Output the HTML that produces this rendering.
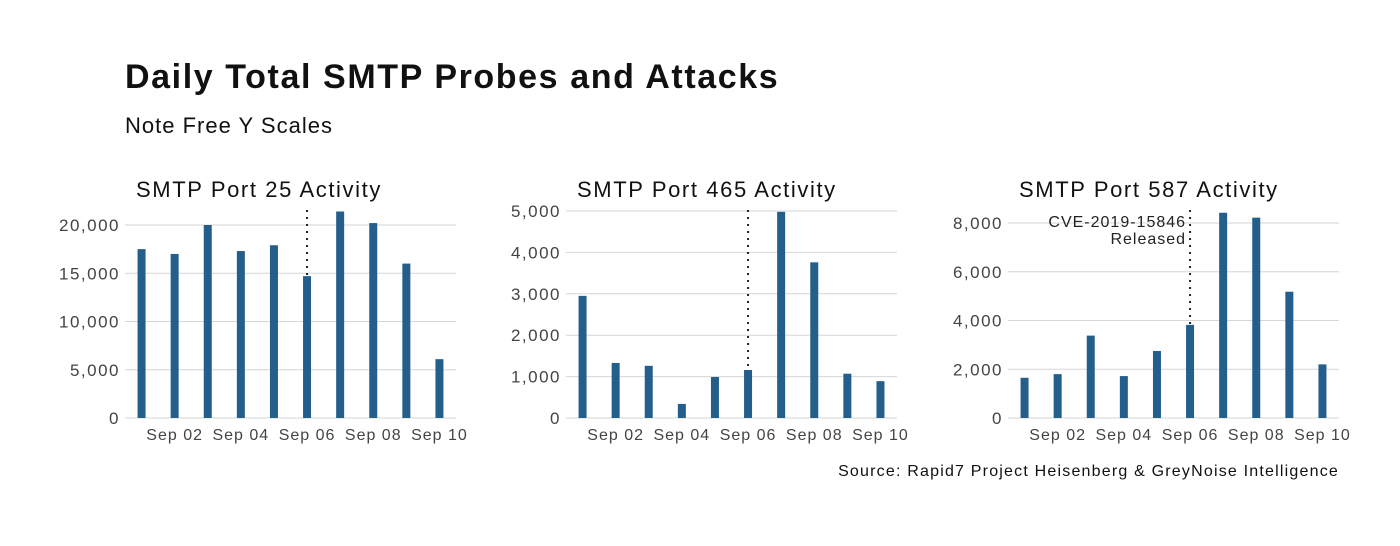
<!DOCTYPE html>
<html><head><meta charset="utf-8"><style>
body{margin:0;background:#fff;width:1400px;height:541px;overflow:hidden;font-family:"Liberation Sans",sans-serif}
</style></head><body>
<svg id="chart" width="1400" height="541" xmlns="http://www.w3.org/2000/svg" font-family="Liberation Sans, sans-serif">
<text x="125" y="88" font-size="34" font-weight="bold" letter-spacing="1.6" fill="#111">Daily Total SMTP Probes and Attacks</text>
<text x="125" y="133" font-size="22" letter-spacing="1" fill="#111">Note Free Y Scales</text>
<text x="1339" y="476" font-size="16" letter-spacing="1.2" text-anchor="end" fill="#111">Source: Rapid7 Project Heisenberg &amp; GreyNoise Intelligence</text>
<g id="panels"></g>
</svg>
<script>
const days = ["Sep 01","Sep 02","Sep 03","Sep 04","Sep 05","Sep 06","Sep 07","Sep 08","Sep 09","Sep 10"];
const tickDays = ["Sep 02","Sep 04","Sep 06","Sep 08","Sep 10"];
const port25 = [17500,17000,20000,17300,17900,14700,21400,20200,16000,6100];
const port465 = [2950,1330,1260,340,990,1160,4980,3760,1070,890];
const port587 = [1650,1800,3380,1720,2750,3820,8420,8220,5180,2200];
const ticks25 = [0,5000,10000,15000,20000];
const ticks465 = [0,1000,2000,3000,4000,5000];
const ticks587 = [0,2000,4000,6000,8000];
const eventDay = "Sep 06";
const titles = ["SMTP Port 25 Activity","SMTP Port 465 Activity","SMTP Port 587 Activity"];

const NS="http://www.w3.org/2000/svg";
const root=document.getElementById('panels');
function mk(tag,attrs,parent){const e=document.createElementNS(NS,tag);for(const k in attrs)e.setAttribute(k,attrs[k]);(parent||root).appendChild(e);return e;}
const panels=[
 {x0:125,x1:456,vals:port25,ticks:ticks25,max:20000,ymax:225,name:'port-25'},
 {x0:566,x1:897,vals:port465,ticks:ticks465,max:5000,ymax:211,name:'port-465'},
 {x0:1008,x1:1339,vals:port587,ticks:ticks587,max:8000,ymax:223,name:'port-587'}
];
const y0=418;
panels.forEach((p,pi)=>{
  const g=mk('g',{});
  
  
  const step=(p.x1-p.x0)/days.length;
  const xs=d=>p.x0+step*(days.indexOf(d)+0.5);
  const ys=v=>y0-(v/p.max)*(y0-p.ymax);
  const t=mk('text',{x:p.x0+11,y:197,'font-size':22,'letter-spacing':1.6,fill:'#111'},g);t.textContent=titles[pi];
  
  
  p.ticks.forEach(v=>{
    const l=mk('line',{x1:p.x0,x2:p.x1,y1:ys(v),y2:ys(v),stroke:'#d6d6d6','stroke-width':1},g);
    
    
    const tl=mk('text',{x:p.x0-5,y:ys(v)+6,'font-size':17,'letter-spacing':1.5,'text-anchor':'end',fill:'#444'},g);
    tl.textContent=v.toLocaleString('en-US');
    
    
  });
  tickDays.forEach(d=>{
    const tl=mk('text',{x:xs(d),y:440,'font-size':16,'letter-spacing':1,'text-anchor':'middle',fill:'#444'},g);
    tl.textContent=d;
    
    
  });
  const ex=xs(eventDay);
  const dl=mk('line',{x1:ex,x2:ex,y1:210,y2:y0+2,stroke:'#222','stroke-width':2,'stroke-dasharray':'2,5'},g);
  
  
  p.vals.forEach((v,i)=>{
    const cx=xs(days[i]);
    const b=mk('rect',{x:cx-4,y:ys(v),width:8,height:y0-ys(v),fill:'#245f8b'},g);
    
    
  });
  if(pi===2){
    const a1=mk('text',{x:ex-4,y:227,'font-size':16,'letter-spacing':1,'text-anchor':'end',fill:'#222'},g);a1.textContent='CVE-2019-15846';
    
    
    const a2=mk('text',{x:ex-4,y:244,'font-size':16,'letter-spacing':1,'text-anchor':'end',fill:'#222'},g);a2.textContent='Released';
    
    
  }
});
</script>
</body></html>
